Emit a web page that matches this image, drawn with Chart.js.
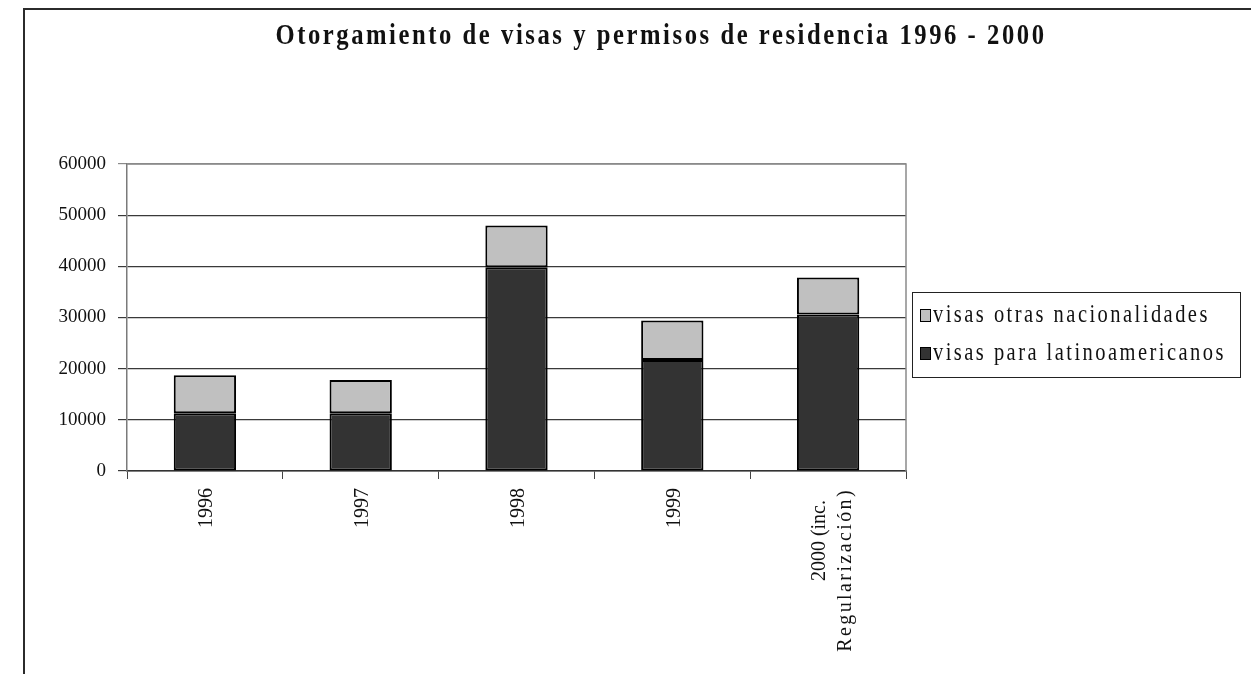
<!DOCTYPE html>
<html>
<head>
<meta charset="utf-8">
<title>Otorgamiento de visas y permisos de residencia 1996 - 2000</title>
<script src="https://cdn.jsdelivr.net/npm/chart.js@4/dist/chart.umd.min.js"></script>
<style>
  html, body { margin: 0; padding: 0; background: #fff; }
  #wrap { position: relative; width: 1251px; height: 674px; }
</style>
</head>
<body>
<div id="wrap"><canvas id="visasChart" width="1251" height="674"></canvas></div>
<script>
// --- Data ---
const years = ['1996', '1997', '1998', '1999', ['2000 (inc.', 'Regularización)']];
const latinoamericanos = [11300, 11300, 39800, 21700, 30600];
const otrasNacionalidades = [7400, 6500, 8200, 7700, 7200];
const yTicks = [0, 10000, 20000, 30000, 40000, 50000, 60000];

const titleText = 'Otorgamiento de visas y permisos de residencia 1996 - 2000';
const serif = '"Liberation Serif", "Times New Roman", serif';

// outer frame (left + top edges only)
const framePlugin = {
    id: 'frame',
    beforeDraw(chart) {
        const ctx = chart.ctx;
        ctx.save();
        ctx.strokeStyle = '#2b2b2b';
        ctx.lineWidth = 2;
        ctx.beginPath();
        ctx.moveTo(24, 674);
        ctx.lineTo(24, 9);
        ctx.lineTo(1251, 9);
        ctx.stroke();
        ctx.restore();
    },
    // grey plot-area border, under the bars
    beforeDatasetsDraw(chart) {
        const a = chart.chartArea;
        const ctx = chart.ctx;
        ctx.save();
        ctx.strokeStyle = '#8a8a8a';
        ctx.lineWidth = 1.5;
        ctx.beginPath();
        ctx.moveTo(a.left, a.top);
        ctx.lineTo(a.right, a.top);
        ctx.lineTo(a.right, a.bottom);
        ctx.stroke();
        ctx.restore();
    }
};

// spaced-out title, slightly condensed
const titlePlugin = {
    id: 'spacedTitle',
    afterDraw(chart) {
        const ctx = chart.ctx;
        ctx.save();
        ctx.font = 'bold 29px ' + serif;
        ctx.letterSpacing = '3px';
        ctx.fillStyle = '#111';
        ctx.textAlign = 'center';
        ctx.textBaseline = 'alphabetic';
        ctx.translate(661, 44);
        ctx.scale(0.85, 1);
        ctx.fillText(titleText, 0, 0);
        ctx.restore();
    }
};

// vertical category labels, read bottom-to-top, hanging from the axis
const xLabelPlugin = {
    id: 'xLabels',
    afterDraw(chart) {
        const scale = chart.scales.x;
        const ctx = chart.ctx;
        const lineGap = 26;
        ctx.save();
        ctx.fillStyle = '#111';
        ctx.font = '20px ' + serif;
        ctx.textAlign = 'right';
        ctx.textBaseline = 'middle';
        chart.data.labels.forEach((lab, i) => {
            const lines = Array.isArray(lab) ? lab : [lab];
            const x = scale.getPixelForTick(i) + 2;
            lines.forEach((line, j) => {
                ctx.save();
                ctx.translate(x + (j - (lines.length - 1) / 2) * lineGap + (lines.length > 1 ? 3 : 0),
                              scale.top + 17 + (lines.length > 1 && j === 0 ? 12 : 0));
                ctx.rotate(-Math.PI / 2);
                // letters in the long label are spread a little wider
                ctx.letterSpacing = /[a-z]{4}/.test(line) ? '2.4px' : '0px';
                ctx.fillText(line, 0, 0);
                ctx.restore();
            });
        });
        ctx.restore();
    }
};

// boxed legend on the right, top entry = top segment of the stack
const legendPlugin = {
    id: 'boxLegend',
    afterDraw(chart) {
        const ctx = chart.ctx;
        const box = { x: 912, y: 292, w: 328, h: 85 };
        ctx.save();
        ctx.fillStyle = '#fff';
        ctx.fillRect(box.x, box.y, box.w, box.h);
        ctx.strokeStyle = '#222';
        ctx.lineWidth = 1;
        ctx.strokeRect(box.x + 0.5, box.y + 0.5, box.w, box.h);

        const items = chart.data.datasets.slice().reverse();
        items.forEach((ds, i) => {
            const rowY = box.y + 17 + i * 38;
            ctx.fillStyle = ds.backgroundColor;
            ctx.fillRect(box.x + 8, rowY, 11, 13);
            ctx.strokeStyle = '#000';
            ctx.lineWidth = 1;
            ctx.strokeRect(box.x + 8.5, rowY + 0.5, 10, 12);

            ctx.save();
            ctx.font = '25px ' + serif;
            ctx.letterSpacing = '3px';
            ctx.fillStyle = '#111';
            ctx.textBaseline = 'alphabetic';
            ctx.translate(box.x + 21, rowY + 13);
            ctx.scale(0.82, 1);
            ctx.fillText(ds.label, 0, 0);
            ctx.restore();
        });
        ctx.restore();
    }
};

const ctx = document.getElementById('visasChart').getContext('2d');
new Chart(ctx, {
    type: 'bar',
    data: {
        labels: years,
        datasets: [
            {
                label: 'visas para latinoamericanos',
                data: latinoamericanos,
                backgroundColor: '#333333',
                borderColor: '#000',
                borderWidth: 2,
                borderSkipped: false,
                barPercentage: 0.4,
                categoryPercentage: 1.0
            },
            {
                label: 'visas otras nacionalidades',
                data: otrasNacionalidades,
                backgroundColor: '#c0c0c0',
                borderColor: '#000',
                borderWidth: 2,
                borderSkipped: false,
                barPercentage: 0.4,
                categoryPercentage: 1.0
            }
        ]
    },
    options: {
        responsive: false,
        animation: false,
        devicePixelRatio: 1,
        layout: { padding: { left: 0, top: 164, right: 345, bottom: 3 } },
        plugins: {
            legend: { display: false },
            title: { display: false },
            tooltip: { enabled: false }
        },
        scales: {
            x: {
                stacked: true,
                offset: true,
                afterFit(scale) { scale.height = 200; },
                grid: {
                    offset: true,
                    drawOnChartArea: false,
                    drawTicks: true,
                    tickLength: 8,
                    color: '#444'
                },
                border: { color: '#333', width: 1.5 },
                ticks: { display: false }
            },
            y: {
                stacked: true,
                min: 0,
                max: 60000,
                afterFit(scale) { scale.width = 127; },
                afterBuildTicks(scale) {
                    scale.ticks = yTicks.map(v => ({ value: v }));
                },
                grid: {
                    color: c => (c.tick && c.tick.value === 60000) ? '#8a8a8a' : '#3a3a3a',
                    lineWidth: 1.2,
                    drawTicks: true,
                    tickLength: 9
                },
                border: { color: '#7a7a7a', width: 1.5 },
                ticks: {
                    padding: 12,
                    color: '#111',
                    font: { family: serif, size: 19 },
                    callback: v => String(v)
                }
            }
        }
    },
    plugins: [framePlugin, titlePlugin, xLabelPlugin, legendPlugin]
});
</script>
</body>
</html>
